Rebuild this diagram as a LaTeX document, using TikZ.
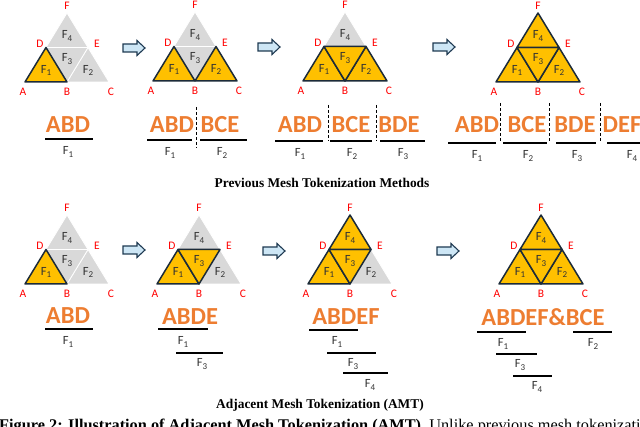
\documentclass[tikz,border=0pt]{standalone}
\usepackage{fontspec}
\setmainfont{Liberation Serif}
\newfontfamily\cali{Carlito}
\definecolor{gold}{HTML}{FFC000}
\definecolor{navy}{HTML}{1C2B39}
\definecolor{greyface}{HTML}{D9D9D9}
\definecolor{tokorange}{HTML}{ED7D31}
\definecolor{vred}{HTML}{FF0000}
\definecolor{arrowfill}{HTML}{CDE6F5}
\definecolor{arrowline}{HTML}{1F3A52}
\tikzset{
 greyfc/.style={fill=greyface, draw=white, line width=0.8pt, line join=round},
 goldfc/.style={fill=gold, draw=navy, line width=1.5pt, line join=round},
 vlab/.style={text=vred, font=\cali\fontsize{11.5}{12}\selectfont, inner sep=0pt},
 flab/.style={text=black!80, font=\cali\fontsize{12.5}{13}\selectfont, inner sep=0pt},
 tok/.style={text=tokorange, font=\cali\bfseries\fontsize{24.5}{25}\selectfont, inner sep=0pt},
 seg/.style={line width=1.3pt, black},
 sepline/.style={line width=0.9pt, dash pattern=on 3pt off 2pt},
 ttl/.style={font=\bfseries\fontsize{13.4}{14}\selectfont, inner sep=0pt},
 blockarrow/.style={fill=arrowfill, draw=arrowline, line width=1.1pt, line join=miter}
}
\newcommand\Fsub[1]{F\raisebox{-0.35ex}{\fontsize{9}{9}\selectfont #1}}
% panel: #1 name, #2 A x, #3 base y
\newcommand\meshpanel[3]{%
 \coordinate (#1A) at (#2,#3);
 \coordinate (#1B) at (#2+42,#3);
 \coordinate (#1C) at (#2+84,#3);
 \coordinate (#1D) at (#2+21,#3-34.5);
 \coordinate (#1E) at (#2+63,#3-34.5);
 \coordinate (#1F) at (#2+42,#3-69);
 \draw[greyfc] (#1A) -- (#1B) -- (#1D) -- cycle;
 \draw[greyfc] (#1B) -- (#1C) -- (#1E) -- cycle;
 \draw[greyfc] (#1D) -- (#1B) -- (#1E) -- cycle;
 \draw[greyfc] (#1D) -- (#1E) -- (#1F) -- cycle;
}
\newcommand\panellabels[3]{%
 \node[vlab] (#1lA) at ([shift={(-2,10)}]#1A) {A};
 \node[vlab] (#1lB) at ([shift={(0,10)}]#1B) {B};
 \node[vlab] (#1lC) at ([shift={(2,10)}]#1C) {C};
 \node[vlab] (#1lD) at ([shift={(-6,-4)}]#1D) {D};
 \node[vlab] (#1lE) at ([shift={(9,-4)}]#1E) {E};
 \node[vlab] (#1lF) at ([shift={(0,-7)}]#1F) {F};
 \node[flab] (#1f1) at (#2+21,#3-11.5) {\Fsub{1}};
 \node[flab] (#1f2) at (#2+63,#3-11.5) {\Fsub{2}};
 \node[flab] (#1f3) at (#2+42,#3-23) {\Fsub{3}};
 \node[flab] (#1f4) at (#2+42,#3-46) {\Fsub{4}};
}
\newcommand\faceA[1]{\draw[goldfc] (#1A) -- (#1B) -- (#1D) -- cycle;}
\newcommand\faceB[1]{\draw[goldfc] (#1B) -- (#1C) -- (#1E) -- cycle;}
\newcommand\faceC[1]{\draw[goldfc] (#1D) -- (#1B) -- (#1E) -- cycle;}
\newcommand\faceD[1]{\draw[goldfc] (#1D) -- (#1E) -- (#1F) -- cycle;}
\newcommand\bluearrow[2]{\draw[blockarrow] (#1,#2-4) -- (#1+14,#2-4) -- (#1+14,#2-7.5) -- (#1+22,#2) -- (#1+14,#2+7.5) -- (#1+14,#2+4) -- (#1,#2+4) -- cycle;}
\begin{document}
\begin{tikzpicture}[x=1pt,y=-1pt]
\useasboundingbox (0,0) rectangle (640,427);
\clip (0,0) rectangle (640,427);
% ---------- top row ----------
\meshpanel{t1}{25}{82}\faceA{t1}\panellabels{t1}{25}{82}
\meshpanel{t2}{153}{81}\faceA{t2}\faceB{t2}\panellabels{t2}{153}{81}
\meshpanel{t3}{303}{81}\faceA{t3}\faceB{t3}\faceC{t3}\panellabels{t3}{303}{81}
\meshpanel{t4}{496}{82}\faceA{t4}\faceB{t4}\faceC{t4}\faceD{t4}\panellabels{t4}{496}{82}
\bluearrow{123}{48}
\bluearrow{258}{47}
\bluearrow{433}{47}
% tokens top
\node[tok] (t1k1) at (68,124.5) {ABD};
\draw[seg] (45,139) -- (93,139);
\node[flab] (t1s1) at (68,152) {\Fsub{1}};
\node[tok] (t2k1) at (172,124.5) {ABD};
\node[tok] (t2k2) at (220,124.5) {BCE};
\draw[sepline] (196,107) -- (196,148);
\draw[seg] (147,140) -- (192,140);
\draw[seg] (200,140) -- (247,140);
\node[flab] (t2s1) at (170,153) {\Fsub{1}};
\node[flab] (t2s2) at (222,153) {\Fsub{2}};
\node[tok] (t3k1) at (300,124.5) {ABD};
\node[tok] (t3k2) at (351,124.5) {BCE};
\node[tok] (t3k3) at (399,124.5) {BDE};
\draw[sepline] (328,105) -- (328,141);
\draw[sepline] (376,105) -- (376,141);
\draw[seg] (275,141) -- (323,141);
\draw[seg] (330,141) -- (372,141);
\draw[seg] (380,141) -- (425,141);
\node[flab] (t3s1) at (300,154) {\Fsub{1}};
\node[flab] (t3s2) at (352,154) {\Fsub{2}};
\node[flab] (t3s3) at (403,154) {\Fsub{3}};
\node[tok] (t4k1) at (477,124.5) {ABD};
\node[tok] (t4k2) at (527,124.5) {BCE};
\node[tok] (t4k3) at (575,124.5) {BDE};
\node[tok] (t4k4) at (622,124.5) {DEF};
\draw[sepline] (500,103) -- (500,142);
\draw[sepline] (549,103) -- (549,142);
\draw[sepline] (600,103) -- (600,142);
\draw[seg] (448,143) -- (496,143);
\draw[seg] (503,143) -- (547,143);
\draw[seg] (556,143) -- (596,143);
\draw[seg] (607,143) -- (640,143);
\node[flab] (t4s1) at (477,156) {\Fsub{1}};
\node[flab] (t4s2) at (528,156) {\Fsub{2}};
\node[flab] (t4s3) at (577,156) {\Fsub{3}};
\node[flab] (t4s4) at (632,156) {\Fsub{4}};
\node[ttl] (title1) at (322,183) {Previous Mesh Tokenization Methods};
% ---------- bottom row ----------
\meshpanel{b1}{25}{284}\faceA{b1}\panellabels{b1}{25}{284}
\meshpanel{b2}{157}{284}\faceA{b2}\faceC{b2}\panellabels{b2}{157}{284}
\meshpanel{b3}{308}{284}\faceA{b3}\faceC{b3}\faceD{b3}\panellabels{b3}{308}{284}
\meshpanel{b4}{499}{284}\faceA{b4}\faceB{b4}\faceC{b4}\faceD{b4}\panellabels{b4}{499}{284}
\bluearrow{123}{250}
\bluearrow{263}{251}
\bluearrow{437}{251}
\node[tok] (b1k) at (68,316) {ABD};
\draw[seg] (45,329) -- (93,329);
\node[flab] (b1s1) at (68,342) {\Fsub{1}};
\node[tok] (b2k) at (190,317) {ABDE};
\draw[seg] (158,329) -- (208,329);
\node[flab] (b2s1) at (183,342) {\Fsub{1}};
\draw[seg] (176,353) -- (223,353);
\node[flab] (b2s3) at (202,364) {\Fsub{3}};
\node[tok] (b3k) at (346,317) {ABDEF};
\draw[seg] (309,330) -- (358,330);
\node[flab] (b3s1) at (337,342) {\Fsub{1}};
\draw[seg] (327,353) -- (376,353);
\node[flab] (b3s3) at (353,364) {\Fsub{3}};
\draw[seg] (343,373) -- (388,373);
\node[flab] (b3s4) at (370,385) {\Fsub{4}};
\node[tok] (b4k) at (543,317) {ABDEF\&BCE};
\draw[seg] (477,332) -- (526,332);
\node[flab] (b4s1) at (503,344) {\Fsub{1}};
\draw[seg] (573,332) -- (612,332);
\node[flab] (b4s2) at (593,344) {\Fsub{2}};
\draw[seg] (496,354) -- (537,354);
\node[flab] (b4s3) at (520,365) {\Fsub{3}};
\draw[seg] (513,376) -- (552,376);
\node[flab] (b4s4) at (537,387) {\Fsub{4}};
\node[ttl] (title2) at (320,405) {Adjacent Mesh Tokenization (AMT)};
\node[anchor=base west, inner sep=0pt, font=\fontsize{16.3}{17}\selectfont] (caption) at (-1,430.5) {\textbf{Figure 2: Illustration of Adjacent Mesh Tokenization (AMT).} Unlike previous mesh tokenization methods};
\end{tikzpicture}
\end{document}
